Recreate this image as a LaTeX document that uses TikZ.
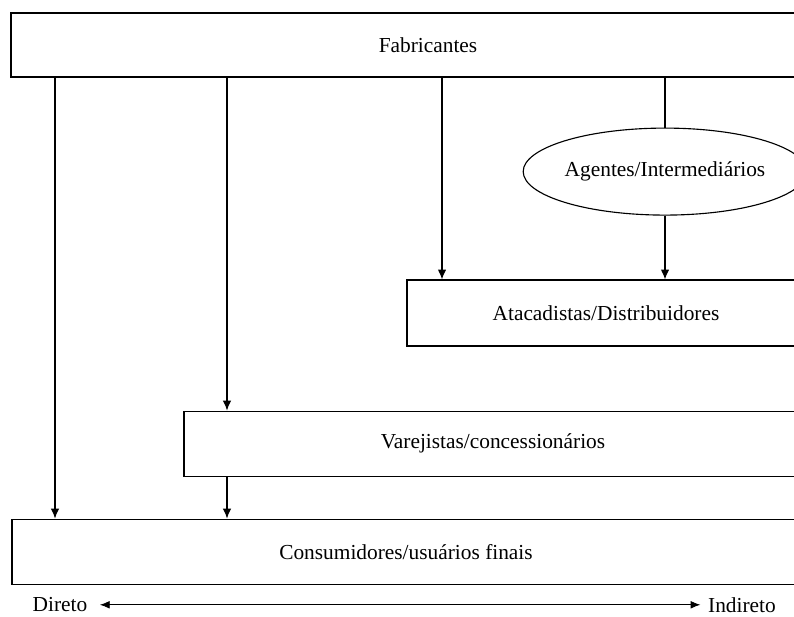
\documentclass[tikz,border=0pt]{standalone}
\usepackage{fontspec}
\setmainfont{Liberation Serif}
\usetikzlibrary{shapes.geometric,arrows.meta}

\begin{document}
\begin{tikzpicture}[
line width=0.8pt,
font=\fontsize{15.2}{18}\selectfont,
every node/.style={
align=center,
inner sep=0pt
},
canal/.style={
draw,
rectangle,
minimum height=1.625cm
},
agente/.style={
draw,
ellipse,
minimum width=6.5cm,
minimum height=2.175cm
},
fluxo/.style={
-{Latex[length=7pt,width=6pt]}
}
]

\clip (0,0) rectangle (19.85,-15.425);
\fill[white] (0,0) rectangle (19.85,-15.425);

\node[canal, minimum width=20.85cm, minimum height=1.6cm] (Fab) at (10.7,-1.125)
{Fabricantes};

\node[agente] (Ag) at (16.625,-4.29)
{Agentes/Intermediários};

\node[canal, minimum width=9.95cm, minimum height=1.65cm] (Ata) at (15.15,-7.825)
{Atacadistas/Distribuidores};

\node[canal, minimum width=15.45cm] (Var) at (12.325,-11.09)
{Varejistas/concessionários};

\node[canal, minimum width=19.7cm] (Cons) at (10.15,-13.79)
{Consumidores/usuários finais};

\node (Dir) at (1.5,-15.12)
{Direto};

\node (Ind) at (18.55,-15.12)
{Indireto};

\draw[fluxo] (Fab.south -| 1.375,0) -- (Cons.north -| 1.375,0);
\draw[fluxo] (Fab.south -| 5.675,0) -- (Var.north -| 5.675,0);
\draw[fluxo] (Fab.south -| 11.05,0) -- (Ata.north -| 11.05,0);
\draw (Fab.south -| Ag.north) -- (Ag.north);
\draw[fluxo] (Ag.south) -- (Ata.north -| Ag.south);
\draw[fluxo] (Var.south -| 5.675,0) -- (Cons.north -| 5.675,0);

\draw[{Latex[length=7pt,width=5.5pt]}-{Latex[length=7pt,width=5.5pt]}, line width=0.6pt,
shorten <=0.3cm, shorten >=0.18cm] (Dir.east) -- (Ind.west);

\end{tikzpicture}
\end{document}
